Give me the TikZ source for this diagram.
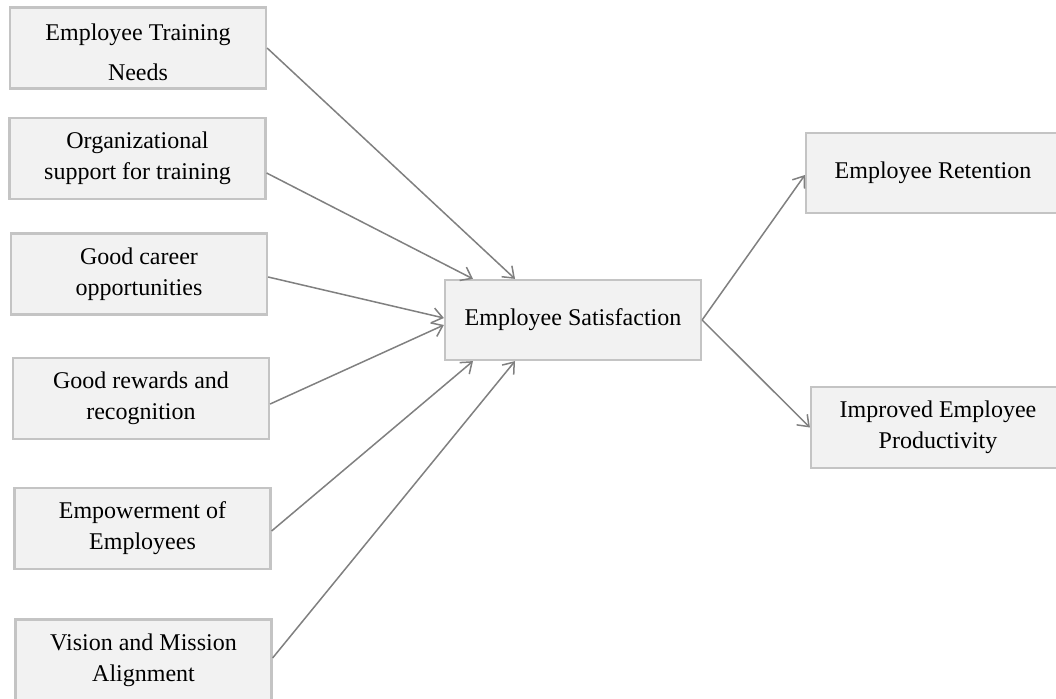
\documentclass[tikz,border=0pt]{standalone}
\usepackage{fontspec}
\setmainfont{Liberation Serif}
\usetikzlibrary{arrows.meta}
\definecolor{boxfill}{RGB}{242,242,242}
\definecolor{boxedge}{RGB}{196,196,196}
\definecolor{boxinner}{RGB}{222,222,222}
\definecolor{linkgray}{RGB}{128,128,128}
\tikzset{
  factor/.style={draw=boxedge, line width=2.2pt, fill=boxfill,
    minimum width=256pt, minimum height=81pt, inner sep=0pt,
    align=center, font=\fontsize{24}{31}\selectfont,
    append after command={
      \pgfextra{\draw[boxinner, line width=1.2pt]
        ([shift={(2.6pt,-2.6pt)}]\tikzlastnode.north west) rectangle
        ([shift={(-2.6pt,2.6pt)}]\tikzlastnode.south east);}}},
  link/.style={draw=linkgray, line width=1.5pt,
    -{Straight Barb[length=10pt,width=15pt,line width=1.5pt]}}
}
\begin{document}
\begin{tikzpicture}[x=1pt,y=-1pt]
\clip (0,0) rectangle (1056,698);
\fill[white] (0,0) rectangle (1056,698);

% drivers on the left
\node[factor, font=\fontsize{24}{40}\selectfont] (b1) at (138,48)
  {\raisebox{-5pt}[\height][\depth]{\begin{tabular}{@{}c@{}}Employee Training\\Needs\end{tabular}}};
\node[factor] (b2) at (137.5,158.5) {Organizational\\support for training};
\node[factor] (b3) at (139,274) {Good career\\opportunities};
\node[factor] (b4) at (141,398.5) {Good rewards and\\recognition};
\node[factor] (b5) at (142.5,528.5) {Empowerment of\\Employees};
\node[factor] (b6) at (143.5,660) {Vision and Mission\\Alignment};

% central outcome
\node[factor, minimum height=80pt] (es) at (573,320) {Employee Satisfaction};

% results on the right
\node[factor, minimum width=254pt, minimum height=80pt] (ret) at (933,173)
  {Employee Retention};
\node[factor, minimum width=254pt] (prod) at (938,427.5)
  {Improved Employee\\Productivity};

% links into the central box
\draw[link] (b1.east) -- ([xshift=-58pt]es.north);
\draw[link] ([yshift=-14.5pt]b2.east) -- ([xshift=-100pt]es.north);
\draw[link] ([yshift=-3pt]b3.east) -- ([yshift=2pt]es.west);
\draw[link] ([yshift=-5.5pt]b4.east) -- ([yshift=-5pt]es.west);
\draw[link] ([yshift=-2.5pt]b5.east) -- ([xshift=-100pt]es.south);
\draw[link] ([yshift=2pt]b6.east) -- ([xshift=-58pt]es.south);

% links out of the central box
\draw[link] (es.east) -- ([yshift=-2pt]ret.west);
\draw[link] (es.east) -- (prod.west);
\end{tikzpicture}
\end{document}
